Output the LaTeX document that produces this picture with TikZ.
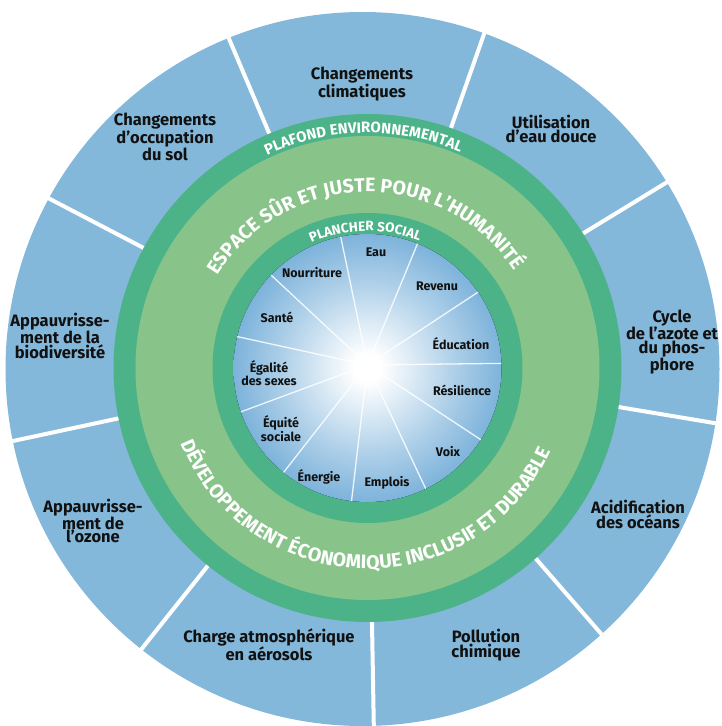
\documentclass[tikz,border=0pt]{standalone}
\usepackage{fontspec}
\setmainfont{Fira Sans}
\usetikzlibrary{decorations.text}

\definecolor{ceilingblue}{HTML}{84B8DA}
\definecolor{ringgreen}{HTML}{4CB389}
\definecolor{spacegreen}{HTML}{88C48A}
\definecolor{floorblue}{HTML}{7DB3DB}
\definecolor{labelink}{HTML}{111111}

% soft white core fading into the blue of the social foundation
\pgfdeclareradialshading{floorglow}{\pgfpoint{0bp}{0bp}}{%
  color(0bp)=(white); color(2.5bp)=(white); color(8bp)=(white!75!floorblue);
  color(16bp)=(white!38!floorblue); color(25bp)=(floorblue); color(50bp)=(floorblue)}

\newcommand\outerlabelfont{\fontsize{16.5}{13.4}\selectfont\bfseries}
\newcommand\innerlabelfont{\fontsize{12.5}{12}\selectfont\bfseries}
\newcommand\bandfont{\fontsize{15}{15}\selectfont\bfseries}
\newcommand\spacefont{\fontsize{19.5}{19.5}\selectfont\bfseries}
\newcommand\floorfont{\fontsize{13.5}{13.5}\selectfont\bfseries}

\tikzset{
  outerlabel/.style={align=center, font=\outerlabelfont, text=labelink, inner sep=0pt},
  innerlabel/.style={align=center, font=\innerlabelfont, text=labelink, inner sep=0pt},
  divider/.style={draw=white, line width=4pt},
  spoke/.style={draw=white, line width=1.3pt, opacity=0.85},
  curvedtext/.style={decorate, decoration={text along path, text align=center,
      text color=white, text={#1}}},
}

\begin{document}
\begin{tikzpicture}[x=1pt, y=1pt]
  \useasboundingbox (0,0) rectangle (721,-726);
  \clip (0,0) rectangle (721,-726);

  \coordinate (R) at (367.5,-368);   % centre of the rings
  \coordinate (O) at (367.5,-365);   % centre of the radial lines
  \coordinate (B) at (362.5,-369);   % centre of the outer ceiling disk

  % ecological ceiling: nine blue sectors
  \fill[ceilingblue] (B) circle[radius=357pt];
  \foreach \a in {113,70.6,31.4,-9.5,-49,-89,-128.5,192.1,152.4}
    \draw[divider, shift={(O)}] (\a:240pt) -- (\a:390pt);

  % rings
  \fill[ringgreen] (R) circle[radius=254pt];
  \fill[spacegreen] (R) circle[radius=232pt];
  \fill[ringgreen] (R) circle[radius=155pt];
  \fill[shading=floorglow] (R) circle[radius=134pt];

  % spokes of the social foundation
  \begin{scope}
    \clip (R) circle[radius=134pt];
    \foreach \a in {101.8,67.6,33.4,0.7,-33.4,-64.8,-96.7,-128,-159.7,167.7,137}
      \draw[spoke, shift={(O)}] (0,0) -- (\a:150pt);
  \end{scope}
  \fill[white, opacity=0.9] (O) circle[radius=8pt];
  \fill[white, opacity=0.5] (O) circle[radius=11pt];

  % curved ring titles
  \path[curvedtext={|\bandfont|PLAFOND ENVIRONNEMENTAL}, shift={(R)}]
    (156:235pt) arc[start angle=156, end angle=26, radius=235pt];
  \path[curvedtext={|\spacefont|ESPACE SÛR ET JUSTE POUR L’HUMANITÉ}, shift={(R)}]
    (166:176pt) arc[start angle=166, end angle=16, radius=176pt];
  \path[curvedtext={|\floorfont|PLANCHER SOCIAL}, shift={(R)}]
    (151:137pt) arc[start angle=151, end angle=31, radius=137pt];
  \path[curvedtext={|\spacefont|DÉVELOPPEMENT ÉCONOMIQUE INCLUSIF ET DURABLE}, shift={(R)}]
    (163.75:201pt) arc[start angle=163.75, end angle=373.75, radius=201pt];

  % ecological ceiling labels
  \node[outerlabel] (climat) at (362,-84) {Changements\\climatiques};
  \node[outerlabel] (eaudouce) at (551,-129) {Utilisation\\d’eau douce};
  \node[outerlabel] (azote) at (672,-342) {Cycle\\de l’azote et\\du phos-\\phore};
  \node[outerlabel] (oceans) at (638,-514) {Acidification\\des océans};
  \node[outerlabel] (chimique) at (486,-645) {Pollution\\chimique};
  \node[outerlabel] (aerosols) at (269,-645) {Charge atmosphérique\\en aérosols};
  \node[outerlabel] (ozone) at (93,-521) {Appauvrisse-\\ment de\\l’ozone};
  \node[outerlabel] (biodiv) at (60,-336) {Appauvrisse-\\ment de la\\biodiversité};
  \node[outerlabel] (sol) at (165,-137) {Changements\\d’occupation\\du sol};

  % social foundation labels
  \node[innerlabel] (eau) at (376,-252) {Eau};
  \node[innerlabel] (revenu) at (437,-286) {Revenu};
  \node[innerlabel] (education) at (461,-344) {Éducation};
  \node[innerlabel] (resilience) at (462,-390) {Résilience};
  \node[innerlabel] (voix) at (448,-452) {Voix};
  \node[innerlabel] (emplois) at (387,-483) {Emplois};
  \node[innerlabel] (energie) at (319,-477) {Énergie};
  \node[innerlabel] (equite) at (281,-429) {Équité\\sociale};
  \node[innerlabel] (egalite) at (269,-373) {Égalité\\des sexes};
  \node[innerlabel] (sante) at (277,-317) {Santé};
  \node[innerlabel] (nourriture) at (312,-273) {Nourriture};
\end{tikzpicture}
\end{document}
